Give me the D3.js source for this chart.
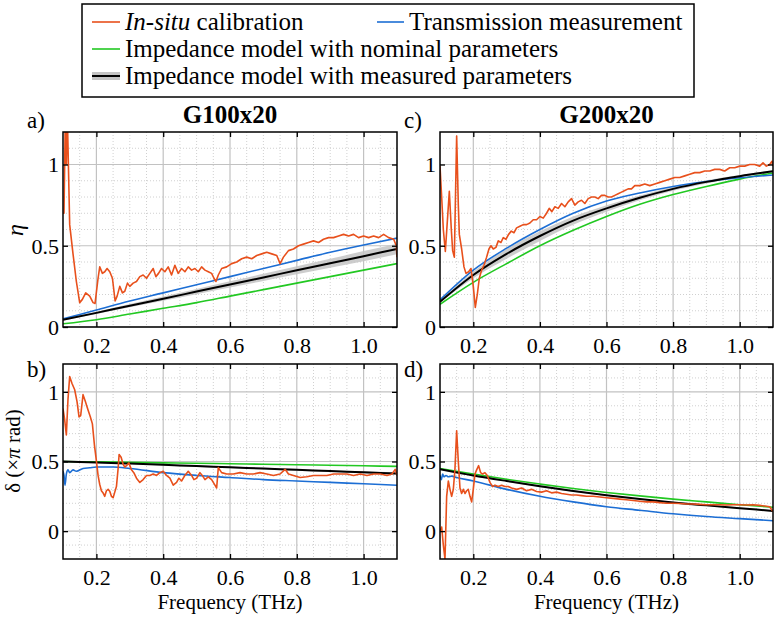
<!DOCTYPE html>
<html>
<head>
<meta charset="utf-8">
<script src="https://cdn.jsdelivr.net/npm/d3@7"></script>
<style>
body { margin: 0; background: #fff; }
text { font-family: "Liberation Serif", "DejaVu Serif", serif; fill: #000; }
</style>
</head>
<body>
<div id="plot"></div>
<script>
// ---- data ----
var xMajorTicks = [0.2, 0.4, 0.6, 0.8, 1.0];
var xMinorTicks = [0.15, 0.25, 0.3, 0.35, 0.45, 0.5, 0.55, 0.65, 0.7, 0.75, 0.85, 0.9, 0.95, 1.05];
var yMajorTicks = [0, 0.5, 1];
var yMinorTop = [0.1, 0.2, 0.3, 0.4, 0.6, 0.7, 0.8, 0.9, 1.1];
var yMinorBottom = [-0.1, 0.1, 0.2, 0.3, 0.4, 0.6, 0.7, 0.8, 0.9, 1.1];

var freqModel = [0.1, 0.2, 0.3, 0.4, 0.5, 0.6, 0.7, 0.8, 0.9, 1.0, 1.1];

// a) eta, G100x20
var etaA_trans = [0.05, 0.105, 0.16, 0.21, 0.26, 0.31, 0.36, 0.41, 0.46, 0.505, 0.547];
var etaA_meas  = [0.044, 0.087, 0.131, 0.174, 0.218, 0.262, 0.305, 0.349, 0.392, 0.436, 0.48];
var etaA_measLo = [0.040, 0.080, 0.121, 0.161, 0.202, 0.243, 0.283, 0.324, 0.364, 0.405, 0.447];
var etaA_measHi = [0.048, 0.094, 0.141, 0.187, 0.234, 0.281, 0.327, 0.374, 0.420, 0.467, 0.513];
var etaA_nom   = [0.02, 0.045, 0.08, 0.115, 0.15, 0.19, 0.23, 0.27, 0.31, 0.35, 0.39];
var freqA_insitu = [0.100,0.103,0.107,0.110,0.113,0.120,0.130,0.140,0.150,0.158,0.168,0.180,0.190,0.196,0.205,0.210,0.218,0.225,0.232,0.240,0.248,0.256,0.262,0.270,0.278,0.285,0.293,0.300,0.310,0.320,0.330,0.340,0.350,0.360,0.370,0.378,0.386,0.395,0.405,0.415,0.425,0.435,0.445,0.455,0.465,0.475,0.485,0.495,0.505,0.515,0.525,0.535,0.545,0.552,0.558,0.565,0.575,0.590,0.605,0.620,0.635,0.650,0.665,0.680,0.695,0.710,0.725,0.740,0.750,0.760,0.775,0.790,0.805,0.820,0.835,0.850,0.865,0.880,0.895,0.910,0.925,0.940,0.955,0.970,0.985,1.000,1.015,1.030,1.045,1.060,1.075,1.090,1.098,1.100];
var etaA_insitu  = [0.70,0.70,1.30,1.00,1.30,0.63,0.45,0.28,0.15,0.17,0.21,0.19,0.15,0.145,0.30,0.37,0.33,0.34,0.36,0.34,0.30,0.16,0.19,0.25,0.21,0.22,0.27,0.25,0.27,0.28,0.31,0.32,0.30,0.33,0.36,0.31,0.33,0.36,0.34,0.37,0.32,0.38,0.33,0.36,0.34,0.37,0.35,0.36,0.34,0.37,0.35,0.34,0.33,0.30,0.28,0.32,0.36,0.37,0.39,0.40,0.42,0.43,0.42,0.44,0.45,0.46,0.45,0.44,0.39,0.43,0.47,0.48,0.50,0.51,0.52,0.53,0.52,0.54,0.55,0.55,0.56,0.57,0.56,0.57,0.55,0.56,0.55,0.56,0.55,0.57,0.55,0.54,0.50,0.43];

// c) eta, G200x20
var etaC_trans = [0.167, 0.35, 0.485, 0.60, 0.70, 0.775, 0.825, 0.865, 0.895, 0.918, 0.935];
var etaC_meas  = [0.155, 0.32, 0.45, 0.56, 0.655, 0.73, 0.795, 0.85, 0.893, 0.928, 0.958];
var etaC_measLo = [0.150, 0.300, 0.420, 0.530, 0.630, 0.710, 0.780, 0.838, 0.883, 0.920, 0.952];
var etaC_measHi = [0.160, 0.340, 0.480, 0.590, 0.680, 0.750, 0.810, 0.862, 0.903, 0.936, 0.964];
var etaC_nom   = [0.14, 0.275, 0.39, 0.50, 0.595, 0.68, 0.755, 0.815, 0.865, 0.91, 0.948];
var freqC_insitu = [0.100,0.105,0.110,0.116,0.122,0.128,0.134,0.138,0.143,0.150,0.155,0.158,0.165,0.172,0.178,0.186,0.193,0.200,0.206,0.212,0.218,0.225,0.232,0.240,0.247,0.253,0.260,0.268,0.275,0.283,0.290,0.298,0.306,0.314,0.322,0.330,0.340,0.350,0.360,0.370,0.380,0.390,0.400,0.410,0.420,0.428,0.436,0.445,0.455,0.465,0.475,0.485,0.495,0.505,0.515,0.525,0.535,0.545,0.555,0.565,0.575,0.585,0.595,0.605,0.615,0.625,0.635,0.645,0.655,0.665,0.675,0.685,0.700,0.715,0.730,0.745,0.760,0.775,0.790,0.805,0.820,0.835,0.850,0.865,0.880,0.895,0.910,0.925,0.940,0.955,0.970,0.985,1.000,1.015,1.030,1.045,1.060,1.070,1.080,1.090,1.097,1.100];
var etaC_insitu  = [0.99,0.80,0.60,0.465,0.65,0.835,0.60,0.47,0.43,1.175,0.75,0.57,0.48,0.37,0.33,0.34,0.36,0.25,0.12,0.20,0.30,0.35,0.38,0.43,0.48,0.50,0.48,0.49,0.53,0.52,0.55,0.54,0.57,0.59,0.58,0.61,0.62,0.63,0.63,0.64,0.66,0.66,0.68,0.67,0.70,0.73,0.71,0.74,0.73,0.76,0.74,0.77,0.79,0.75,0.77,0.78,0.76,0.79,0.80,0.80,0.79,0.81,0.81,0.80,0.80,0.81,0.82,0.83,0.84,0.85,0.85,0.87,0.87,0.88,0.87,0.88,0.89,0.90,0.91,0.92,0.92,0.93,0.94,0.95,0.95,0.96,0.96,0.97,0.97,0.96,0.98,0.98,0.99,0.99,1.00,1.00,0.99,1.01,0.99,1.00,1.02,0.99];

// b) delta, G100x20
var deltaB_meas = [0.50, 0.493, 0.485, 0.476, 0.467, 0.458, 0.449, 0.440, 0.431, 0.422, 0.413];
var deltaB_measLo = [0.497, 0.489, 0.480, 0.471, 0.461, 0.452, 0.443, 0.433, 0.424, 0.414, 0.405];
var deltaB_measHi = [0.503, 0.497, 0.490, 0.481, 0.473, 0.464, 0.455, 0.447, 0.438, 0.430, 0.421];
var deltaB_nom  = [0.50, 0.497, 0.494, 0.490, 0.487, 0.484, 0.480, 0.477, 0.473, 0.469, 0.465];
var freqB_trans  = [0.1,0.103,0.106,0.11,0.115,0.12,0.13,0.14,0.16,0.18,0.2,0.25,0.3,0.4,0.5,0.6,0.7,0.8,0.9,1.0,1.1];
var deltaB_trans = [0.43,0.40,0.33,0.41,0.44,0.42,0.44,0.43,0.45,0.455,0.46,0.46,0.45,0.42,0.40,0.385,0.37,0.36,0.35,0.34,0.33];
var freqB_insitu = [0.100,0.105,0.110,0.115,0.120,0.127,0.135,0.142,0.148,0.153,0.160,0.167,0.175,0.182,0.188,0.194,0.200,0.205,0.210,0.215,0.220,0.225,0.230,0.235,0.240,0.245,0.250,0.255,0.260,0.265,0.268,0.274,0.280,0.285,0.290,0.297,0.305,0.312,0.320,0.330,0.340,0.350,0.360,0.370,0.380,0.390,0.400,0.410,0.420,0.430,0.440,0.447,0.455,0.465,0.475,0.485,0.492,0.500,0.510,0.517,0.525,0.535,0.545,0.555,0.560,0.565,0.575,0.590,0.610,0.630,0.650,0.670,0.690,0.710,0.730,0.750,0.765,0.775,0.790,0.810,0.830,0.850,0.870,0.890,0.910,0.930,0.950,0.970,0.990,1.010,1.030,1.050,1.070,1.085,1.095,1.100];
var deltaB_insitu  = [0.88,0.80,0.69,0.95,1.11,1.06,1.015,0.93,0.82,0.83,0.98,0.93,0.87,0.82,0.77,0.62,0.505,0.40,0.335,0.29,0.274,0.25,0.29,0.30,0.286,0.25,0.24,0.28,0.32,0.45,0.55,0.53,0.48,0.46,0.47,0.49,0.44,0.42,0.38,0.35,0.37,0.40,0.40,0.41,0.40,0.42,0.43,0.40,0.38,0.33,0.35,0.38,0.36,0.40,0.43,0.40,0.37,0.38,0.42,0.40,0.37,0.39,0.37,0.33,0.31,0.456,0.42,0.41,0.41,0.42,0.41,0.41,0.42,0.41,0.40,0.41,0.444,0.41,0.40,0.385,0.39,0.40,0.40,0.40,0.41,0.41,0.41,0.40,0.41,0.40,0.41,0.41,0.40,0.41,0.444,0.40];

// d) delta, G200x20
var deltaD_meas = [0.445, 0.40, 0.36, 0.322, 0.288, 0.257, 0.23, 0.206, 0.185, 0.165, 0.145];
var deltaD_measLo = [0.441, 0.395, 0.355, 0.317, 0.283, 0.252, 0.225, 0.201, 0.180, 0.160, 0.140];
var deltaD_measHi = [0.449, 0.405, 0.365, 0.327, 0.293, 0.262, 0.235, 0.211, 0.190, 0.170, 0.150];
var deltaD_nom  = [0.45, 0.41, 0.372, 0.338, 0.306, 0.278, 0.253, 0.23, 0.21, 0.19, 0.172];
var freqD_trans  = [0.1,0.104,0.108,0.112,0.118,0.125,0.135,0.15,0.2,0.3,0.4,0.5,0.6,0.7,0.8,0.9,1.0,1.1];
var deltaD_trans = [0.40,0.37,0.41,0.39,0.40,0.39,0.395,0.385,0.36,0.30,0.25,0.21,0.175,0.15,0.125,0.105,0.09,0.075];
var freqD_insitu = [0.100,0.105,0.110,0.115,0.120,0.125,0.130,0.135,0.140,0.145,0.150,0.155,0.160,0.165,0.170,0.175,0.180,0.185,0.190,0.195,0.200,0.205,0.210,0.216,0.222,0.228,0.235,0.242,0.250,0.258,0.265,0.275,0.285,0.295,0.305,0.315,0.330,0.345,0.360,0.375,0.390,0.405,0.420,0.435,0.450,0.465,0.480,0.495,0.510,0.525,0.540,0.560,0.580,0.600,0.620,0.640,0.660,0.680,0.700,0.720,0.740,0.760,0.780,0.800,0.820,0.840,0.860,0.880,0.900,0.920,0.940,0.960,0.980,1.000,1.020,1.040,1.060,1.075,1.090,1.100];
var deltaD_insitu  = [0.00,0.03,-0.10,-0.20,0.25,0.36,0.30,0.25,0.30,0.45,0.72,0.50,0.31,0.27,0.30,0.27,0.29,0.30,0.25,0.21,0.30,0.41,0.44,0.47,0.42,0.41,0.42,0.40,0.35,0.32,0.33,0.32,0.33,0.32,0.32,0.31,0.30,0.31,0.29,0.30,0.285,0.28,0.29,0.275,0.28,0.27,0.265,0.26,0.26,0.255,0.25,0.25,0.245,0.24,0.235,0.23,0.225,0.22,0.215,0.21,0.21,0.205,0.20,0.20,0.198,0.195,0.195,0.192,0.19,0.19,0.19,0.188,0.19,0.19,0.188,0.19,0.185,0.18,0.175,0.14];

// ---- drawing ----
var colors = { insitu: "#E8501C", trans: "#1C6ED4", nom: "#22C822", meas: "#000000", band: "#c4c4c4" };

var svg = d3.select("#plot")
            .append("svg")
            .attr("width", 780)
            .attr("height", 618);

var panels = [
    { id: "a", label: "a)", title: "G100x20", x: [63, 397], y: [327, 132], ydom: [0, 1.2], yMinor: yMinorTop,
      trans: [freqModel, etaA_trans], meas: etaA_meas, lo: etaA_measLo, hi: etaA_measHi, nom: etaA_nom, insitu: [freqA_insitu, etaA_insitu], xlab: false },
    { id: "c", label: "c)", title: "G200x20", x: [440, 773], y: [327, 132], ydom: [0, 1.2], yMinor: yMinorTop,
      trans: [freqModel, etaC_trans], meas: etaC_meas, lo: etaC_measLo, hi: etaC_measHi, nom: etaC_nom, insitu: [freqC_insitu, etaC_insitu], xlab: false },
    { id: "b", label: "b)", title: null, x: [63, 397], y: [559, 364], ydom: [-0.2, 1.2], yMinor: yMinorBottom,
      trans: [freqB_trans, deltaB_trans], meas: deltaB_meas, lo: deltaB_measLo, hi: deltaB_measHi, nom: deltaB_nom, insitu: [freqB_insitu, deltaB_insitu], xlab: true },
    { id: "d", label: "d)", title: null, x: [440, 773], y: [559, 364], ydom: [-0.2, 1.2], yMinor: yMinorBottom,
      trans: [freqD_trans, deltaD_trans], meas: deltaD_meas, lo: deltaD_measLo, hi: deltaD_measHi, nom: deltaD_nom, insitu: [freqD_insitu, deltaD_insitu], xlab: true }
];

function zip(xs, ys) { return xs.map(function(d, i){ return [d, ys[i]]; }); }

panels.forEach(function(p){
    var xScale = d3.scaleLinear().domain([0.1, 1.1]).range(p.x),
        yScale = d3.scaleLinear().domain(p.ydom).range(p.y);
    var g = svg.append("g");
    var x0 = p.x[0], x1 = p.x[1], yb = p.y[0], yt = p.y[1];

    svg.append("clipPath").attr("id", "clip_" + p.id)
        .append("rect").attr("x", x0).attr("y", yt).attr("width", x1 - x0).attr("height", yb - yt);

    // grid
    g.selectAll(".vminor").data(xMinorTicks).enter().append("line")
        .attr("x1", function(d){ return xScale(d); }).attr("x2", function(d){ return xScale(d); })
        .attr("y1", yt).attr("y2", yb)
        .style("stroke", "#d0d0d0").style("stroke-dasharray", "1,2").style("stroke-width", 1);
    g.selectAll(".hminor").data(p.yMinor).enter().append("line")
        .attr("x1", x0).attr("x2", x1)
        .attr("y1", function(d){ return yScale(d); }).attr("y2", function(d){ return yScale(d); })
        .style("stroke", "#d0d0d0").style("stroke-dasharray", "1,2").style("stroke-width", 1);
    g.selectAll(".vmajor").data(xMajorTicks).enter().append("line")
        .attr("x1", function(d){ return xScale(d); }).attr("x2", function(d){ return xScale(d); })
        .attr("y1", yt).attr("y2", yb)
        .style("stroke", "#c2c2c2").style("stroke-width", 1.2);
    g.selectAll(".hmajor").data(yMajorTicks).enter().append("line")
        .attr("x1", x0).attr("x2", x1)
        .attr("y1", function(d){ return yScale(d); }).attr("y2", function(d){ return yScale(d); })
        .style("stroke", "#c2c2c2").style("stroke-width", 1.2);

    // data
    var gd = g.append("g").attr("clip-path", "url(#clip_" + p.id + ")");
    var line = d3.line().x(function(d){ return xScale(d[0]); }).y(function(d){ return yScale(d[1]); });
    var smooth = d3.line().curve(d3.curveMonotoneX)
                    .x(function(d){ return xScale(d[0]); }).y(function(d){ return yScale(d[1]); });
    var area = d3.area().curve(d3.curveMonotoneX)
                    .x(function(d){ return xScale(d[0]); })
                    .y0(function(d){ return yScale(d[1]); })
                    .y1(function(d){ return yScale(d[2]); });

    gd.append("path")
        .datum(freqModel.map(function(f, i){ return [f, p.lo[i], p.hi[i]]; }))
        .attr("d", area)
        .style("fill", colors.band).style("opacity", 0.85);
    gd.append("path").datum(zip(freqModel, p.nom)).attr("d", smooth)
        .style("fill", "none").style("stroke", colors.nom).style("stroke-width", 1.6);
    gd.append("path").datum(zip(p.trans[0], p.trans[1])).attr("d", smooth)
        .style("fill", "none").style("stroke", colors.trans).style("stroke-width", 1.6);
    gd.append("path").datum(zip(freqModel, p.meas)).attr("d", smooth)
        .style("fill", "none").style("stroke", colors.meas).style("stroke-width", 2);
    gd.append("path").datum(zip(p.insitu[0], p.insitu[1])).attr("d", line)
        .style("fill", "none").style("stroke", colors.insitu).style("stroke-width", 1.6)
        .style("stroke-linejoin", "round");

    // axes (ticks pointing inward, MATLAB style)
    var axB = g.append("g").attr("transform", "translate(0," + yb + ")")
        .call(d3.axisBottom(xScale).tickValues(xMajorTicks).tickSize(-5).tickPadding(10)
              .tickFormat(d3.format(".1f")));
    var axT = g.append("g").attr("transform", "translate(0," + yt + ")")
        .call(d3.axisTop(xScale).tickValues(xMajorTicks).tickSize(-5).tickFormat(""));
    var axL = g.append("g").attr("transform", "translate(" + x0 + ",0)")
        .call(d3.axisLeft(yScale).tickValues(yMajorTicks).tickSize(-5).tickPadding(4)
              .tickFormat(function(d){ return d === 0.5 ? "0.5" : d3.format("d")(d); }));
    var axR = g.append("g").attr("transform", "translate(" + x1 + ",0)")
        .call(d3.axisRight(yScale).tickValues(yMajorTicks).tickSize(-5).tickFormat(""));
    [axB, axT, axL, axR].forEach(function(a){
        a.attr("font-family", null).attr("font-size", null);
        a.select(".domain").remove();
        a.selectAll("line").style("stroke", "#000").style("stroke-width", 1.3);
        a.selectAll("text").style("font-size", "22px").style("fill", "#000");
    });
    axL.selectAll("text").attr("dy", "0.34em");

    g.append("rect")
        .attr("x", x0).attr("y", yt).attr("width", x1 - x0).attr("height", yb - yt)
        .style("fill", "none").style("stroke", "#000").style("stroke-width", 1.5);

    // panel label and title
    g.append("text").attr("x", x0 - 36).attr("y", p.xlab ? yt + 13 : yt - 4)
        .style("font-size", "23px").text(p.label);
    if (p.title) {
        g.append("text").attr("x", (x0 + x1) / 2).attr("y", yt - 9)
            .attr("text-anchor", "middle")
            .style("font-size", "25px").style("font-weight", "bold").text(p.title);
    }
    if (p.xlab) {
        g.append("text").attr("x", (x0 + x1) / 2).attr("y", 609)
            .attr("text-anchor", "middle").style("font-size", "21px").text("Frequency (THz)");
    }
});

// y labels
svg.append("text")
    .attr("transform", "translate(23,230) rotate(-90)")
    .attr("text-anchor", "middle")
    .style("font-size", "24px").style("font-style", "italic").text("η");
var dl = svg.append("text")
    .attr("transform", "translate(20,451) rotate(-90)")
    .attr("text-anchor", "middle")
    .style("font-size", "21px");
dl.append("tspan").text("δ (×");
dl.append("tspan").style("font-style", "italic").text("π");
dl.append("tspan").text(" rad)");

// legend
var legend = svg.append("g");
legend.append("rect")
    .attr("x", 82).attr("y", 4).attr("width", 612).attr("height", 93)
    .style("fill", "#fff").style("stroke", "#000").style("stroke-width", 1.5);

var legendRows = [
    { x: 92, y: 30, key: "insitu" },
    { x: 377, y: 30, key: "trans", text: "Transmission measurement" },
    { x: 92, y: 57, key: "nom", text: "Impedance model with nominal parameters" },
    { x: 92, y: 84, key: "meas", text: "Impedance model with measured parameters" }
];
legendRows.forEach(function(r){
    var len = r.key === "trans" ? 27 : 28;
    if (r.key === "meas") {
        legend.append("line").attr("x1", r.x).attr("x2", r.x + len).attr("y1", r.y - 8).attr("y2", r.y - 8)
            .style("stroke", colors.band).style("stroke-width", 8);
    }
    legend.append("line").attr("x1", r.x).attr("x2", r.x + len).attr("y1", r.y - 8).attr("y2", r.y - 8)
        .style("stroke", colors[r.key]).style("stroke-width", r.key === "meas" ? 2 : 1.6);
    var t = legend.append("text").attr("x", r.x + len + 5).attr("y", r.y).style("font-size", "25px");
    if (r.key === "insitu") {
        t.append("tspan").style("font-style", "italic").text("In-situ");
        t.append("tspan").text(" calibration");
    } else {
        t.text(r.text);
    }
});
</script>
</body>
</html>
